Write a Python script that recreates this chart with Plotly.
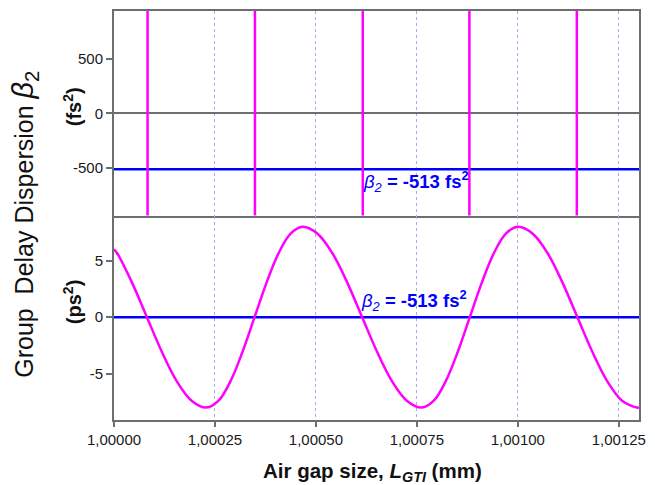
import plotly.graph_objects as go
from plotly.subplots import make_subplots

# Air gap size (mm) and group delay dispersion (ps^2)
air_gap_mm = [1.0000000, 1.0000078, 1.0000446, 1.0000815, 1.0001184, 1.0001553, 1.0001921, 1.0002290,
              1.0002588, 1.0002885, 1.0003183, 1.0003480, 1.0003778, 1.0004075, 1.0004373, 1.0004670,
              1.0005039, 1.0005408, 1.0005776, 1.0006145, 1.0006514, 1.0006883, 1.0007251, 1.0007620,
              1.0007918, 1.0008215, 1.0008513, 1.0008810, 1.0009108, 1.0009405, 1.0009703, 1.0010000,
              1.0010369, 1.0010738, 1.0011106, 1.0011475, 1.0011844, 1.0012213, 1.0012581, 1.0012950,
              1.0013000]
gdd_ps2 = [6.0, 5.66, 3.06, 0.0, -3.06, -5.66, -7.39, -8.0,
           -7.39, -5.66, -3.06, 0.0, 3.06, 5.66, 7.39, 8.0,
           7.39, 5.66, 3.06, 0.0, -3.06, -5.66, -7.39, -8.0,
           -7.39, -5.66, -3.06, 0.0, 3.06, 5.66, 7.39, 8.0,
           7.39, 5.66, 3.06, 0.0, -3.06, -5.66, -7.39, -8.0,
           -7.99]

# Positions of the (near-vertical) branches in the upper fs^2 panel
crossing_gap_mm = [1.0000831, 1.000349, 1.000616, 1.000880, 1.001146]

x_range = [1.0, 1.0013]
beta2_fs2 = [-513, -513]       # upper panel (fs^2)
beta2_ps2 = [0, 0]             # lower panel (ps^2), -513 fs^2 ~ 0 ps^2

x_ticks = [1.0, 1.00025, 1.0005, 1.00075, 1.001, 1.00125]
top_y_ticks = [-500, 0, 500]
top_y_labels = ['-500', '0', '500']
bottom_y_ticks = [-5, 0, 5]
bottom_y_labels = ['-5', '0', '5']

MAGENTA = '#ff00ff'
BLUE = '#0000ff'
AXIS = '#6e6e6e'
GRID = '#a8a8f2'
FONT = 'Arial, Liberation Sans, sans-serif'
TICKFONT = dict(family=FONT, size=15, color='#1a1a1a')

fig = make_subplots(rows=2, cols=1, shared_xaxes=True, vertical_spacing=0)

fig.add_trace(go.Scatter(x=x_range, y=beta2_fs2, mode='lines',
                         line=dict(color=BLUE, width=2.5),
                         showlegend=False, hoverinfo='skip'), row=1, col=1)
fig.add_trace(go.Scatter(x=x_range, y=beta2_ps2, mode='lines',
                         line=dict(color=BLUE, width=2.5),
                         showlegend=False, hoverinfo='skip'), row=2, col=1)
fig.add_trace(go.Scatter(x=air_gap_mm, y=gdd_ps2, mode='lines',
                         line=dict(color=MAGENTA, width=2.5, shape='spline'),
                         showlegend=False, hoverinfo='skip'), row=2, col=1)

# magenta near-vertical branches in top panel
for c in crossing_gap_mm:
    fig.add_vline(x=c, row=1, col=1, line=dict(color=MAGENTA, width=2.5))

xcommon = dict(range=x_range, tickvals=x_ticks, tickformat='.5f',
               showgrid=True, gridcolor=GRID, griddash='dot', gridwidth=1,
               showline=True, linecolor=AXIS, linewidth=2, zeroline=False)
fig.update_xaxes(**xcommon, mirror=True, showticklabels=False, ticks='', row=1, col=1)
fig.update_xaxes(**xcommon, mirror=False, ticks='outside', ticklen=5, tickwidth=1.5, tickcolor=AXIS,
                 tickfont=TICKFONT, row=2, col=1)

ycommon = dict(showgrid=False, showline=True, linecolor=AXIS, linewidth=2, mirror=True,
               ticks='outside', ticklen=6, tickwidth=1.5, tickcolor=AXIS,
               tickfont=TICKFONT)
fig.update_yaxes(**ycommon, range=[-936, 936], tickvals=top_y_ticks, ticktext=top_y_labels,
                 zeroline=True, zerolinecolor=AXIS, zerolinewidth=2, row=1, col=1)
fig.update_yaxes(**ycommon, range=[-9.1, 9.0], tickvals=bottom_y_ticks, ticktext=bottom_y_labels,
                 zeroline=False, row=2, col=1)

annotations = [
    dict(text='Group\u00a0 Delay Dispersion <span style="font-size:29px"><i>\u03b2</i><sub>2</sub></span>',
         textangle=-90,
         xref='paper', yref='paper', x=-0.169, y=0.478, xanchor='center', yanchor='middle',
         showarrow=False, font=dict(family=FONT, size=25, color='#111')),
    dict(text='<b>(fs<sup>2</sup>)</b>', textangle=-90,
         xref='paper', yref='paper', x=-0.079, y=0.766, xanchor='center', yanchor='middle',
         showarrow=False, font=dict(family=FONT, size=20, color='#111')),
    dict(text='<b>(ps<sup>2</sup>)</b>', textangle=-90,
         xref='paper', yref='paper', x=-0.079, y=0.287, xanchor='center', yanchor='middle',
         showarrow=False, font=dict(family=FONT, size=20, color='#111')),
    dict(text='<b>Air gap size, <i>L<sub>GTI</sub></i> (mm)</b>',
         xref='paper', yref='paper', x=0.4925, y=-0.1265, xanchor='center', yanchor='middle',
         showarrow=False, font=dict(family=FONT, size=20.5, color='#111')),
    dict(text='<i>\u03b2<sub>2</sub></i><b> = -513 fs<sup>2</sup></b>',
         xref='paper', yref='paper', x=(420 - 114) / 532, y=(420 - 180) / 411,
         xanchor='center', yanchor='middle', showarrow=False,
         font=dict(family=FONT, size=18.5, color=BLUE)),
    dict(text='<i>\u03b2<sub>2</sub></i><b> = -513 fs<sup>2</sup></b>',
         xref='paper', yref='paper', x=(418 - 114) / 532, y=(420 - 300) / 411,
         xanchor='center', yanchor='middle', showarrow=False,
         font=dict(family=FONT, size=18.5, color=BLUE)),
]

fig.update_layout(width=655, height=485, margin=dict(l=114, r=9, t=9, b=65),
                  paper_bgcolor='white', plot_bgcolor='white', separators=', ',
                  annotations=annotations, showlegend=False,
                  font=dict(family=FONT))

fig.write_html('out.html', config={'displayModeBar': False},
               post_script="document.body.style.margin='0';document.body.style.overflow='hidden';")
